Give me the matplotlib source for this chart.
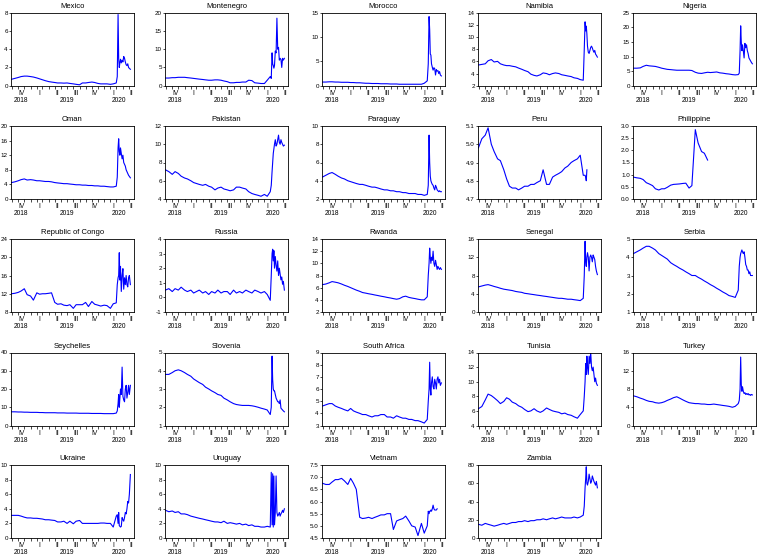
import matplotlib
matplotlib.use('Agg')
import matplotlib.pyplot as plt
import matplotlib.dates as mdates
import matplotlib.transforms as mtransforms
import numpy as np
import pandas as pd

plt.rcParams['font.family'] = ['Liberation Sans', 'DejaVu Sans']

nan = float('nan')

DATES = (['2018-09-28', '2018-10-15', '2018-11-01', '2018-11-15', '2018-12-01', '2018-12-15']
         + ['2019-%02d-%s' % (m, d) for m in range(1, 13) for d in ('01', '15')]
         + ['2020-01-01', '2020-01-15', '2020-02-01', '2020-02-15']
         + ['2020-03-01', '2020-03-06', '2020-03-10', '2020-03-13', '2020-03-16', '2020-03-19',
            '2020-03-22', '2020-03-26', '2020-03-30', '2020-04-03', '2020-04-07', '2020-04-11',
            '2020-04-15', '2020-04-19', '2020-04-23', '2020-04-27', '2020-05-01', '2020-05-05',
            '2020-05-10'])

QUARTER_MIDS = ['2018-11-15', '2019-02-15', '2019-05-15', '2019-08-15', '2019-11-15', '2020-02-15', '2020-05-15']
QUARTER_LABELS = ['IV', 'I', 'II', 'III', 'IV', 'I', 'II']
YEAR_POS = ['2018-11-12', '2019-07-01', '2020-03-15']
YEAR_LABELS = ['2018', '2019', '2020']

MEXICO = ([0.7, 0.8, 0.9, 1.0, 1.05, 1.05]
          + [1.0, 0.95, 0.85, 0.75, 0.65, 0.55, 0.45, 0.4, 0.35, 0.3, 0.3, 0.28, 0.3, 0.25, 0.2,
             0.15, 0.1, 0.3, 0.3, 0.35, 0.4, 0.35, 0.25, 0.2]
          + [0.2, 0.2, 0.15, 0.2]
          + [0.3, 1.0, 7.8, 3.0, 2.0, 2.5, 2.9, 2.5, 2.8, 2.6, 3.2, 3.0, 2.6, 2.3, 2.2, 2.4, 2.0, 1.9, 1.8])
MONTENEGRO = ([2.1, 2.1, 2.2, 2.2, 2.3, 2.3]
              + [2.3, 2.2, 2.1, 2.0, 1.9, 1.8, 1.7, 1.6, 1.5, 1.5, 1.6, 1.6, 1.5, 1.3, 1.1,
                 0.8, 0.8, 0.9, 0.9, 1.0, 1.0, 1.5, 1.4, 0.8]
              + [0.7, 0.6, 0.6, 1.5]
              + [2.5, 2.0, 9.0, 6.0, 5.5, 4.8, 5.5, 9.5, 9.0, 18.5, 10.0, 10.5, 7.0, 7.5, 7.2, 5.0, 7.5, 7.0, 7.5])
MOROCCO = ([0.75, 0.75, 0.8, 0.8, 0.75, 0.75]
           + [0.7, 0.7, 0.7, 0.65, 0.65, 0.6, 0.6, 0.55, 0.5, 0.5, 0.45, 0.45, 0.45, 0.4, 0.4,
              0.4, 0.35, 0.35, 0.35, 0.3, 0.3, 0.3, 0.3, 0.3]
           + [0.3, 0.3, 0.3, 0.5]
           + [1.0, 4.5, 14.2, 11.5, 6.5, 6.3, 4.5, 3.8, 3.2, 3.7, 3.5, 2.2, 3.3, 3.0, 3.1, 2.5, 2.9, 2.2, 2.0])
NAMIBIA = ([5.4, 5.5, 5.6, 6.1, 6.3, 5.9]
           + [6.0, 5.6, 5.4, 5.3, 5.3, 5.2, 5.1, 4.9, 4.7, 4.5, 4.3, 3.9, 3.7, 3.6, 3.8,
              4.1, 4.0, 3.8, 4.0, 4.1, 4.0, 3.8, 3.7, 3.6]
           + [3.5, 3.3, 3.2, 3.0]
           + [2.9, 8.0, 12.5, 11.0, 11.8, 10.5, 8.5, 7.5, 7.3, 7.8, 8.3, 8.5, 8.2, 7.8, 7.5, 7.8, 7.2, 7.0, 6.7])
NIGERIA = ([6.0, 6.0, 6.1, 6.6, 7.0, 6.8]
           + [6.7, 6.6, 6.3, 6.0, 5.8, 5.6, 5.5, 5.4, 5.3, 5.3, 5.3, 5.3, 5.3, 5.2, 4.6,
              4.3, 4.2, 4.4, 4.6, 4.5, 4.6, 4.7, 4.4, 4.3]
           + [4.1, 4.0, 3.8, 3.7]
           + [3.8, 4.3, 12.0, 20.5, 15.0, 12.0, 14.0, 12.0, 9.5, 14.5, 13.0, 14.0, 12.0, 11.0, 9.5, 9.0, 8.5, 8.0, 7.5])
OMAN = ([4.5, 4.7, 5.0, 5.3, 5.5, 5.2]
        + [5.3, 5.2, 5.0, 5.0, 4.9, 4.8, 4.8, 4.7, 4.5, 4.4, 4.3, 4.2, 4.2, 4.1, 4.0,
           3.9, 3.9, 3.8, 3.8, 3.7, 3.7, 3.6, 3.6, 3.5]
        + [3.5, 3.4, 3.3, 3.3]
        + [3.5, 6.0, 14.0, 16.5, 13.0, 12.0, 14.0, 12.5, 11.0, 12.0, 10.0, 9.5, 9.0, 8.0, 7.5, 7.0, 6.5, 6.2, 5.8])
PAKISTAN = ([7.2, 7.0, 6.7, 7.0, 6.8, 6.5]
            + [6.3, 6.2, 6.0, 5.8, 5.7, 5.6, 5.5, 5.6, 5.4, 5.3, 5.0, 5.2, 5.3, 5.1, 5.0,
               4.9, 5.0, 5.3, 5.3, 5.2, 5.1, 4.8, 4.6, 4.5]
            + [4.4, 4.3, 4.5, 4.3]
            + [4.8, 5.5, 7.0, 8.0, 9.0, 9.5, 10.0, 10.5, 9.8, 10.0, 10.5, 11.0, 10.2, 10.0, 10.5, 10.2, 10.0, 9.8, 9.9])
PARAGUAY = ([4.4, 4.6, 4.8, 4.9, 4.7, 4.5]
            + [4.3, 4.2, 4.0, 3.9, 3.8, 3.7, 3.6, 3.6, 3.5, 3.4, 3.3, 3.3, 3.2, 3.1, 3.0,
               3.0, 2.9, 2.9, 2.8, 2.8, 2.7, 2.7, 2.6, 2.6]
            + [2.6, 2.5, 2.5, 2.4]
            + [2.5, 3.5, 9.0, 6.0, 4.5, 4.0, 3.8, 3.6, 3.5, 3.2, 3.0, 3.5, 3.3, 3.0, 2.9, 2.8, 2.9, 2.8, 2.8])
PERU = ([4.98, 5.03, 5.05, 5.09, 5.00, 4.96]
        + [4.92, 4.91, 4.86, 4.81, 4.77, 4.76, 4.76, 4.75, 4.76, 4.77, 4.77, 4.78, 4.78, 4.79, 4.80,
           4.86, 4.78, 4.78, 4.82, 4.83, 4.84, 4.85, 4.87, 4.88]
        + [4.90, 4.91, 4.92, 4.94]
        + [4.83, 4.83, 4.83, 4.82, 4.80, 4.86] + [nan] * 13)
PHILIPPINE = ([0.9, 0.87, 0.85, 0.8, 0.67, 0.62]
              + [0.55, 0.42, 0.37, 0.42, 0.42, 0.48, 0.57, 0.6, 0.61, 0.62, 0.64, 0.65, 0.45, 0.55, 2.85,
                 2.3, 1.95, 1.88, 1.6, nan, nan, nan, nan, nan]
              + [nan] * 4
              + [nan] * 19)
REP_CONGO = ([12.0, 12.1, 12.3, 12.6, 13.1, 11.8]
             + [11.5, 10.6, 12.2, 11.9, 12.0, 12.0, 12.1, 12.2, 10.1, 9.7, 9.8, 9.5, 9.4, 9.6, 8.8,
                9.6, 9.6, 9.6, 10.1, 9.2, 10.3, 9.7, 9.5, 9.3]
             + [9.5, 9.4, 8.8, 9.8]
             + [10.0, 14.0, 15.5, 16.0, 21.0, 15.0, 18.0, 12.5, 16.0, 17.5, 13.0, 15.5, 14.0, 16.0, 14.0, 13.5, 15.5, 16.0, 14.0])
RUSSIA = ([0.5, 0.6, 0.4, 0.6, 0.5, 0.7]
          + [0.5, 0.4, 0.5, 0.3, 0.4, 0.5, 0.3, 0.4, 0.2, 0.4, 0.3, 0.5, 0.3, 0.4, 0.4,
             0.2, 0.5, 0.3, 0.4, 0.3, 0.5, 0.4, 0.3, 0.5]
          + [0.4, 0.3, 0.4, 0.2]
          + [-0.2, 1.5, 3.0, 3.3, 2.5, 3.2, 2.0, 2.8, 2.2, 1.8, 2.5, 1.5, 2.0, 1.6, 1.2, 1.4, 0.9, 1.1, 0.5])
RWANDA = ([6.5, 6.6, 6.8, 7.0, 6.9, 6.8]
          + [6.6, 6.4, 6.2, 6.0, 5.8, 5.6, 5.4, 5.2, 5.1, 5.0, 4.9, 4.8, 4.7, 4.6, 4.5,
             4.4, 4.3, 4.2, 4.1, 4.2, 4.5, 4.6, 4.4, 4.3]
          + [4.2, 4.1, 4.0, 4.0]
          + [4.5, 8.0, 10.0, 12.5, 11.0, 10.0, 11.0, 10.5, 12.0, 10.0, 9.5, 10.5, 9.8, 9.0, 9.5, 9.2, 9.0, 9.3, 9.0])
SENEGAL = ([5.5, 5.7, 5.9, 6.0, 5.8, 5.6]
           + [5.4, 5.2, 5.0, 4.9, 4.8, 4.7, 4.5, 4.4, 4.3, 4.1, 4.0, 3.9, 3.8, 3.7, 3.6,
              3.5, 3.4, 3.3, 3.2, 3.1, 3.0, 3.0, 2.9, 2.8]
           + [2.8, 2.7, 2.6, 2.5]
           + [3.0, 8.0, 15.5, 11.0, 10.0, 12.0, 13.0, 12.0, 9.0, 12.0, 12.5, 12.0, 11.0, 12.5, 12.0, 11.5, 10.0, 9.0, 8.2])
SERBIA = ([4.2, 4.3, 4.4, 4.5, 4.6, 4.6]
          + [4.5, 4.4, 4.2, 4.1, 4.0, 3.9, 3.7, 3.6, 3.5, 3.4, 3.3, 3.2, 3.1, 3.0, 3.0,
             2.9, 2.8, 2.7, 2.6, 2.5, 2.4, 2.3, 2.2, 2.1]
          + [2.0, 1.9, 1.85, 1.8]
          + [2.2, 3.5, 4.0, 4.2, 4.3, 4.4, 4.3, 4.2, 4.3, 4.0, 3.6, 3.5, 3.3, 3.3, 3.1, 3.2, 3.0, 3.0, 3.0])
SEYCHELLES = ([7.5, 7.5, 7.4, 7.4, 7.3, 7.3]
              + [7.2, 7.2, 7.2, 7.1, 7.1, 7.0, 7.0, 7.0, 7.0, 6.9, 6.9, 6.9, 6.8, 6.8, 6.8,
                 6.8, 6.7, 6.7, 6.7, 6.7, 6.6, 6.6, 6.6, 6.6]
              + [6.5, 6.5, 6.5, 6.5]
              + [6.8, 8.0, 12.0, 17.0, 10.0, 15.0, 20.0, 17.0, 32.0, 16.0, 14.0, 13.0, 20.0, 22.0, 15.0, 18.0, 22.0, 17.0, 22.0])
SLOVENIA = ([3.8, 3.8, 3.9, 4.0, 4.05, 4.0]
            + [3.9, 3.8, 3.7, 3.55, 3.45, 3.35, 3.25, 3.1, 3.0, 2.9, 2.8, 2.7, 2.65, 2.5, 2.4,
               2.3, 2.2, 2.15, 2.12, 2.1, 2.1, 2.1, 2.08, 2.05]
            + [2.0, 1.95, 1.9, 1.85]
            + [1.6, 2.0, 4.8, 3.5, 3.0, 2.9, 2.9, 2.7, 2.5, 2.4, 2.3, 2.3, 2.2, 2.4, 1.95, 1.9, 1.85, 1.8, 1.75])
SOUTH_AFRICA = ([4.6, 4.7, 4.8, 4.8, 4.6, 4.5]
                + [4.4, 4.3, 4.2, 4.4, 4.2, 4.1, 4.0, 3.9, 3.9, 3.8, 3.7, 3.8, 3.8, 3.9, 3.9,
                   3.7, 3.7, 3.6, 3.8, 3.7, 3.6, 3.6, 3.5, 3.5]
                + [3.4, 3.4, 3.3, 3.2]
                + [3.5, 5.0, 6.0, 8.2, 6.0, 5.5, 6.5, 7.0, 6.2, 6.0, 6.8, 6.5, 6.0, 6.8, 7.0, 6.5, 6.8, 6.3, 6.5])
TUNISIA = ([6.3, 6.6, 7.5, 8.3, 8.1, 7.8]
           + [7.4, 7.0, 7.3, 7.8, 7.6, 7.2, 7.0, 6.7, 6.5, 6.2, 5.9, 6.0, 6.3, 6.0, 5.8,
              6.0, 6.4, 6.2, 6.0, 5.9, 5.8, 5.6, 5.7, 5.5]
           + [5.4, 5.2, 5.0, 5.5]
           + [6.0, 8.0, 10.0, 12.5, 11.0, 13.5, 12.0, 11.0, 13.5, 12.5, 14.0, 12.0, 11.5, 12.0, 11.0, 10.0, 10.5, 9.8, 9.5])
TURKEY = ([6.5, 6.3, 6.0, 5.8, 5.5, 5.3]
          + [5.2, 5.0, 4.9, 5.0, 5.2, 5.5, 5.8, 6.1, 6.3, 6.0, 5.6, 5.3, 5.0, 4.9, 4.8,
             4.8, 4.7, 4.7, 4.6, 4.6, 4.7, 4.6, 4.5, 4.4]
          + [4.3, 4.2, 4.0, 4.2]
          + [4.8, 5.5, 8.0, 15.0, 9.0, 7.5, 8.5, 7.5, 7.0, 7.2, 6.8, 7.0, 6.8, 7.0, 6.7, 6.8, 6.6, 6.8, 6.7])
UKRAINE = ([3.1, 3.1, 3.1, 3.0, 2.85, 2.75]
           + [2.75, 2.7, 2.7, 2.65, 2.6, 2.5, 2.5, 2.45, 2.4, 2.2, 2.2, 2.3, 2.0, 2.3, 1.95,
              2.3, 2.4, 2.0, 2.0, 2.0, 2.0, 2.0, 2.0, 2.05]
           + [2.05, 2.0, 2.0, 1.5]
           + [3.0, 3.2, 2.0, 3.5, 1.7, 1.6, 1.5, 1.6, 2.8, 2.5, 2.3, 2.8, 3.5, 3.3, 4.0, 5.0, 4.8, 6.0, 8.7])
URUGUAY = ([3.8, 3.6, 3.7, 3.5, 3.6, 3.3]
           + [3.3, 3.2, 3.0, 2.9, 2.8, 2.7, 2.6, 2.5, 2.4, 2.3, 2.2, 2.2, 2.1, 2.3, 2.0,
              2.1, 2.0, 1.9, 2.0, 1.8, 1.9, 1.7, 1.8, 1.6]
           + [1.6, 1.5, 1.5, 1.6]
           + [1.5, 9.0, 1.8, 8.8, 1.5, 8.5, 1.8, 3.5, 8.5, 3.5, 3.0, 3.2, 3.5, 3.0, 3.3, 3.5, 3.8, 3.5, 4.0])
VIETNAM = ([6.75, 6.7, 6.7, 6.8, 6.9, 6.9]
           + [6.95, 6.85, 6.7, 6.95, 6.75, 6.5, 5.35, 5.3, 5.32, 5.35, 5.3, 5.35, 5.4, 5.45, 5.45,
              5.5, 5.5, 4.85, 5.2, 5.25, 5.3, 5.4, 5.2, 5.0]
           + [4.95, 4.6, 5.1, 4.7]
           + [5.0, 5.6, 5.5, 5.6, 5.6, 5.65, 5.6, 5.7, 5.85, 5.7, 5.65, 5.65, 5.65, 5.7, nan, nan, nan, nan, nan])
ZAMBIA = ([15, 14, 16, 15, 14, 13]
          + [14, 15, 16, 15, 16, 17, 17, 18, 18, 19, 18, 19, 19, 20, 20,
             21, 20, 21, 22, 21, 22, 23, 22, 22]
          + [22, 23, 22, 23]
          + [25, 35, 55, 65, 78, 60, 58, 62, 70, 65, 60, 62, 68, 65, 62, 60, 58, 62, 55])

COUNTRIES = ['Mexico', 'Montenegro', 'Morocco', 'Namibia', 'Nigeria',
             'Oman', 'Pakistan', 'Paraguay', 'Peru', 'Philippine',
             'Republic of Congo', 'Russia', 'Rwanda', 'Senegal', 'Serbia',
             'Seychelles', 'Slovenia', 'South Africa', 'Tunisia', 'Turkey',
             'Ukraine', 'Uruguay', 'Vietnam', 'Zambia']
SERIES = [MEXICO, MONTENEGRO, MOROCCO, NAMIBIA, NIGERIA,
          OMAN, PAKISTAN, PARAGUAY, PERU, PHILIPPINE,
          REP_CONGO, RUSSIA, RWANDA, SENEGAL, SERBIA,
          SEYCHELLES, SLOVENIA, SOUTH_AFRICA, TUNISIA, TURKEY,
          UKRAINE, URUGUAY, VIETNAM, ZAMBIA]
YAXES = [(0, 8, 2), (0, 20, 5), (0, 15, 5), (2, 14, 2), (0, 25, 5),
         (0, 20, 4), (4, 12, 2), (2, 10, 2), (4.7, 5.1, 0.1), (0.0, 3.0, 0.5),
         (8, 24, 4), (-1, 4, 1), (2, 14, 2), (0, 16, 4), (1, 5, 1),
         (0, 40, 10), (1, 5, 1), (3, 9, 1), (4, 14, 2), (0, 16, 4),
         (0, 10, 2), (0, 10, 2), (4.5, 7.5, 0.5), (0, 80, 20)]

W, H = 760, 558
COL_LEFT = [11, 165, 322, 478, 633]
ROW_TOP = [12.7, 126, 239, 352.5, 465]
AW, AH = 123, 73

fig = plt.figure(figsize=(W / 100, H / 100), dpi=100)
dates = pd.to_datetime(DATES)
qmids = pd.to_datetime(QUARTER_MIDS)

for i, (name, vals, (lo, hi, step)) in enumerate(zip(COUNTRIES, SERIES, YAXES)):
    r, c = divmod(i, 5)
    ax = fig.add_axes([COL_LEFT[c] / W, 1 - (ROW_TOP[r] + AH) / H, AW / W, AH / H])
    ax.plot(dates, np.array(vals, dtype=float), color='#0000ff', lw=0.8)
    ax.set_xlim(pd.Timestamp('2018-09-26'), pd.Timestamp('2020-05-28'))
    ax.set_ylim(lo, hi)
    ticks = np.arange(lo, hi + step / 2, step)
    ax.set_yticks(ticks)
    if step < 1:
        ax.set_yticklabels(['%.1f' % t for t in ticks])
    else:
        ax.set_yticklabels(['%d' % round(t) for t in ticks])
    ax.set_xticks(qmids)
    ax.set_xticklabels(QUARTER_LABELS)
    ax.xaxis.set_minor_locator(mdates.MonthLocator())
    ax.tick_params(axis='x', which='major', length=0, pad=3.2, labelsize=4.8)
    ax.tick_params(axis='x', which='minor', length=1.8, width=0.5, direction='out')
    ax.tick_params(axis='y', length=1.5, width=0.5, pad=0.8, labelsize=4.5)
    for sp in ax.spines.values():
        sp.set_linewidth(0.6)
    trans = mtransforms.blended_transform_factory(ax.transData, ax.transAxes)
    for d, lab in zip(YEAR_POS, YEAR_LABELS):
        ax.text(mdates.date2num(pd.Timestamp(d).to_pydatetime()), -0.205, lab,
                transform=trans, ha='center', va='center', fontsize=4.8)
    ax.set_title(name, fontsize=5.5, pad=3.5)

fig.savefig('out.png', dpi=100)
